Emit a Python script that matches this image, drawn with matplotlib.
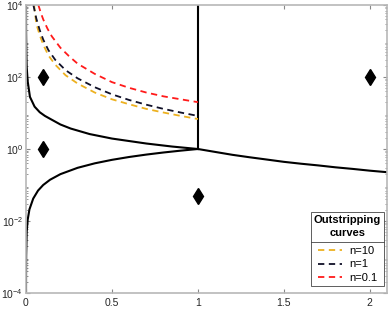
import matplotlib
matplotlib.use("Agg")
import matplotlib.pyplot as plt
from matplotlib.lines import Line2D

plt.rcParams['font.family'] = ['Liberation Sans', 'DejaVu Sans']
plt.rcParams['mathtext.default'] = 'regular'

# boundary curves
upper_x = [0.0001, 0.0005, 0.002, 0.004, 0.01, 0.023, 0.05, 0.08, 0.11, 0.15, 0.2, 0.26, 0.37, 0.5, 0.7, 0.85, 1.0]
upper_y = [10000, 2000, 480, 190, 75, 28, 15, 10.5, 8.3, 6.5, 4.8, 3.7, 2.6, 1.95, 1.42, 1.17, 1.0]

lower_x = [0.0001, 0.0003, 0.001, 0.004, 0.01, 0.02, 0.042, 0.07, 0.1, 0.14, 0.2, 0.3, 0.4, 0.5, 0.6, 0.7, 0.8, 0.9, 1.0]
lower_y = [0.0001, 0.0003, 0.0011, 0.005, 0.011, 0.021, 0.042, 0.07, 0.1, 0.14, 0.2, 0.3, 0.4, 0.5, 0.6, 0.7, 0.8, 0.9, 1.0]

right_x = [1.0, 1.1, 1.2, 1.3, 1.4, 1.5, 1.6, 1.7, 1.8, 1.9, 2.0, 2.1]
right_y = [1.0, 0.83, 0.69, 0.59, 0.51, 0.44, 0.39, 0.35, 0.31, 0.28, 0.25, 0.227]

vert_x = [1.0, 1.0]
vert_y = [1.0, 10000]

# outstripping curves
n10_x = [0.047, 0.06, 0.08, 0.1, 0.13, 0.17, 0.23, 0.3, 0.4, 0.5, 0.6, 0.7, 0.8, 0.9, 1.0]
n10_y = [10000, 3000, 1450, 800, 400, 220, 112, 66, 37, 24, 17.5, 13, 10.3, 8.3, 6.8]

n1_x = [0.043, 0.06, 0.08, 0.1, 0.13, 0.17, 0.23, 0.3, 0.4, 0.5, 0.6, 0.7, 0.8, 0.9, 1.0]
n1_y = [10000, 4200, 2000, 1100, 560, 300, 155, 92, 52, 33, 23, 17, 13, 10.3, 8.3]

n01_x = [0.072, 0.085, 0.1, 0.125, 0.15, 0.2, 0.25, 0.3, 0.4, 0.5, 0.6, 0.7, 0.8, 0.9, 1.0]
n01_y = [10000, 6300, 4000, 2200, 1350, 650, 380, 235, 122, 72, 50, 37, 29, 24, 20]

# diamond points
pts_x = [0.1, 0.1, 1.0, 2.0]
pts_y = [100, 1, 0.05, 100]

fig = plt.figure(figsize=(3.89, 3.09), dpi=100)
ax = fig.add_axes([26 / 389, 1 - 293 / 309, 361 / 389, 288 / 309])

for xs, ys in [(upper_x, upper_y), (lower_x, lower_y), (right_x, right_y), (vert_x, vert_y)]:
    ax.plot(xs, ys, color='black', lw=1.5)

ax.plot(n10_x, n10_y, color='#EDB120', lw=1.3, dashes=(3.5, 2.5), label='n=10')
ax.plot(n1_x, n1_y, color='#101028', lw=1.3, dashes=(3.5, 2.5), label='n=1')
ax.plot(n01_x, n01_y, color='#FF1A1A', lw=1.3, dashes=(3.5, 2.5), label='n=0.1')

ax.plot(pts_x, pts_y, 'd', color='black', markersize=8, linestyle='none')

ax.set_yscale('log')
ax.set_xlim(0, 2.1)
ax.set_ylim(1e-4, 1e4)
ax.set_xticks([0, 0.5, 1, 1.5, 2])
ax.set_xticklabels(['0', '0.5', '1', '1.5', '2'])
ax.set_yticks([1e-4, 1e-2, 1e0, 1e2, 1e4])
ax.tick_params(which='both', direction='in', top=True, right=True, labelsize=7.5,
               color='#888888', labelcolor='#262626')
ax.tick_params(which='major', length=3)
ax.tick_params(axis='y', which='major', pad=2)
ax.tick_params(which='minor', length=1.5)
ax.minorticks_on()
ax.xaxis.set_minor_locator(plt.NullLocator())
for s in ax.spines.values():
    s.set_color('#b8b8b8')
    s.set_linewidth(1.2)

leg = ax.legend(title='Outstripping\ncurves', loc='lower right', bbox_to_anchor=(0.993, 0.024),
                borderaxespad=0, fontsize=8, handlelength=2.2, handletextpad=0.6,
                labelspacing=0.3, borderpad=0.3, fancybox=False, framealpha=1,
                edgecolor='#444444', alignment='center')
leg.get_title().set_fontweight('bold')
leg.get_title().set_fontsize(8)
leg.get_title().set_linespacing(1.4)
leg.get_title().set_multialignment('center')
leg.get_frame().set_linewidth(0.6)
leg._legend_box.sep = 5.5

fig.canvas.draw()
tb = leg.get_title().get_window_extent()
hb = leg._legend_handle_box.get_window_extent()
lb = leg.get_window_extent()
inv = fig.transFigure.inverted()
ymid = (tb.y0 + hb.y1) / 2
(x0, y0) = inv.transform((lb.x0, ymid))
(x1, _) = inv.transform((lb.x1, ymid))
fig.add_artist(Line2D([x0, x1], [y0, y0], color='#444444', lw=0.6))

fig.savefig('out.png', dpi=100)
